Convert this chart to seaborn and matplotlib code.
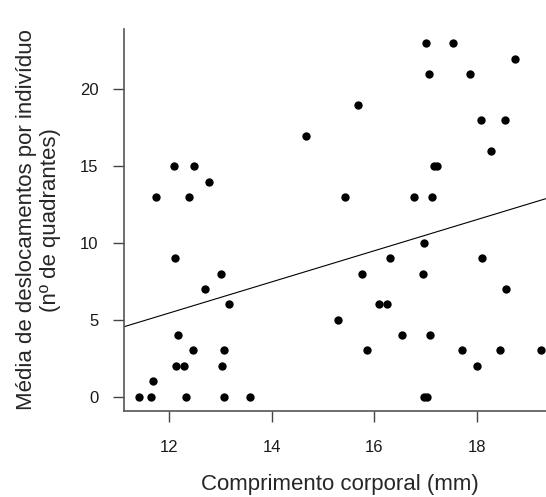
import numpy as np
import pandas as pd
import seaborn as sns
import matplotlib.pyplot as plt

# Body length (mm) and mean displacements per individual
comprimento = [
    11.42, 11.66, 11.70, 11.75, 12.10, 12.12, 12.17, 12.14, 12.30, 12.34,
    12.40, 12.47, 12.49, 12.70, 12.79, 13.02, 13.04, 13.08, 13.08, 13.17,
    13.58, 14.68, 15.69, 17.01, 17.53, 18.75, 17.06, 17.86, 18.08, 18.55,
    18.27, 17.16, 17.22, 15.43, 16.78, 17.12, 16.97, 16.30, 18.10, 15.77,
    16.95, 18.57, 16.09, 16.25, 15.30, 16.54, 17.08, 15.86, 17.72, 18.46,
    19.25, 18.00, 16.98, 17.03,
]
deslocamentos = [
    0, 0, 1, 13, 15, 9, 4, 2, 2, 0,
    13, 3, 15, 7, 14, 8, 2, 3, 0, 6,
    0, 17, 19, 23, 23, 22, 21, 21, 18, 18,
    16, 15, 15, 13, 13, 13, 10, 9, 9, 8,
    8, 7, 6, 6, 5, 4, 4, 3, 3, 3,
    3, 2, 0, 0,
]

x_ticks = [12, 14, 16, 18]
y_ticks = [0, 5, 10, 15, 20]

df = pd.DataFrame({"comprimento": comprimento, "deslocamentos": deslocamentos})

sns.set_style("ticks")
plt.rcParams['font.family'] = ['Liberation Sans', 'DejaVu Sans']

fig = plt.figure(figsize=(5.46, 4.97), dpi=100)
ax = fig.add_axes([0.2266, 0.1737, 0.7934, 0.7674])
ax.set_xlim(11.12, 19.56)
ax.set_ylim(-0.92, 23.92)

# regression line drawn over the full x range, like abline(lm(...))
sns.regplot(
    data=df, x="comprimento", y="deslocamentos", ax=ax, ci=None, truncate=False,
    scatter_kws={"s": 36, "color": "black", "linewidths": 0, "alpha": 1},
    line_kws={"color": "black", "linewidth": 0.8},
)
ax.set_xlim(11.12, 19.56)
ax.set_ylim(-0.92, 23.92)

ax.set_xticks(x_ticks)
ax.set_yticks(y_ticks)
ax.tick_params(axis="both", direction="out", length=8, width=1, color="#444444",
               labelsize=12, labelcolor="#1a1a1a", pad=10)
ax.tick_params(axis="x", pad=13)
for side in ["top", "right"]:
    ax.spines[side].set_visible(False)
for side in ["left", "bottom"]:
    ax.spines[side].set_color("#555555")
    ax.spines[side].set_linewidth(1.2)

ax.set_xlabel("Comprimento corporal (mm)", fontsize=16, labelpad=14)
ax.set_ylabel("Média de deslocamentos por indivíduo\n(nº de quadrantes)", fontsize=16,
              labelpad=14, linespacing=1.15)

fig.savefig("out.png", dpi=100)
